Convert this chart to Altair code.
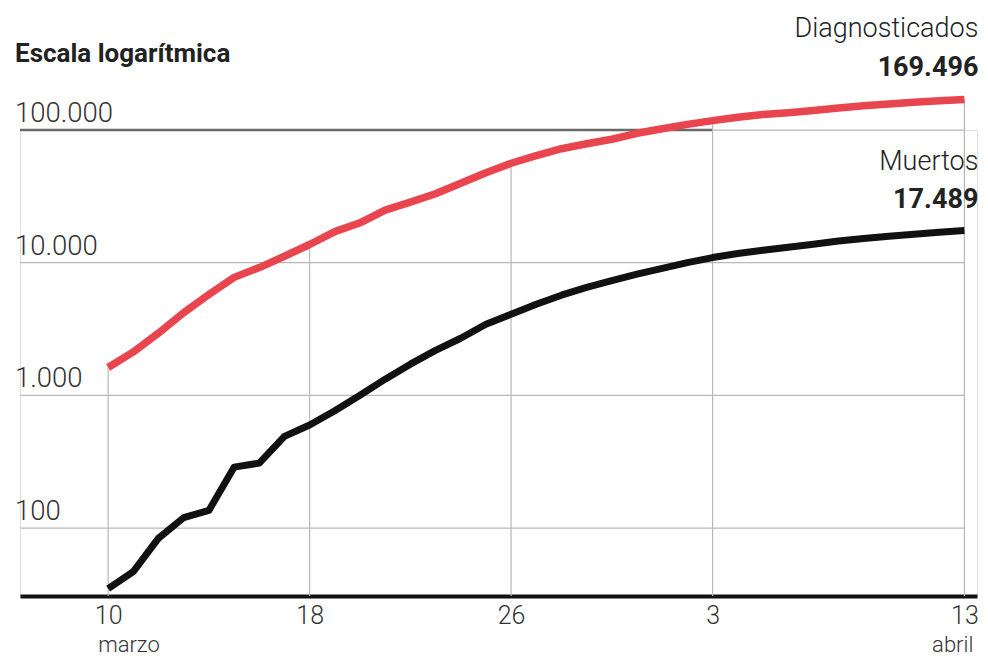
import altair as alt
import pandas as pd

fechas = pd.date_range("2020-03-10", "2020-04-13", freq="D")
diagnosticados = [1622, 2128, 2950, 4209, 5753, 7753, 9191, 11178, 13716, 17147,
                  19980, 24926, 28572, 33089, 39673, 47610, 56188, 64059, 72248, 78797,
                  85195, 94417, 102136, 110238, 117710, 124736, 130759, 135032, 140510, 146690,
                  152446, 157022, 161852, 166019, 169496]
muertos = [35, 47, 84, 120, 136, 288, 309, 491, 598, 767,
           1002, 1326, 1720, 2182, 2696, 3434, 4089, 4858, 5690, 6528,
           7340, 8189, 9053, 10003, 10935, 11744, 12418, 13055, 13798, 14555,
           15238, 15843, 16353, 16972, 17489]

y_ticks = [100, 1000, 10000, 100000]
y_labels = ["100", "1.000", "10.000", "100.000"]
x_ticks = ["2020-03-10", "2020-03-18", "2020-03-26", "2020-04-03", "2020-04-13"]
titulo = "Escala logarítmica"

X_START = pd.Timestamp("2020-03-06 12:00")
Y_MIN = 30.8
Y_MAX = 100000

FONT = "Roboto"
RED = "#E8454F"
GRID = "#b8b8b8"

df = pd.DataFrame({"fecha": fechas, "diag": diagnosticados, "muertos": muertos})

xscale = alt.Scale(domain=[alt.DateTime(year=2020, month=3, date=6, hours=12),
                           alt.DateTime(year=2020, month=4, date=13, hours=12)], nice=False)
yscale = alt.Scale(type="log", domain=[Y_MIN, Y_MAX], nice=False)

xt = [pd.Timestamp(t) for t in x_ticks]
xaxis = alt.Axis(values=[alt.DateTime(year=t.year, month=t.month, date=t.day) for t in xt],
                 format="%-d", domainColor="#111", domainWidth=4, ticks=False, grid=False,
                 labelFont=FONT, labelFontSize=25, labelFontWeight=300, labelColor="#333",
                 labelPadding=7, title=None, labelFlush=False)

X = alt.X("fecha:T", scale=xscale, axis=xaxis)

# horizontal grid
hgrid_df = pd.DataFrame({"x": [X_START] * len(y_ticks), "x2": [pd.Timestamp("2020-04-13")] * len(y_ticks),
                         "y": y_ticks, "lab": y_labels})
hgrid = alt.Chart(hgrid_df).mark_rule(color=GRID, strokeWidth=1.2).encode(
    x=alt.X("x:T", scale=xscale, axis=xaxis), x2="x2:T", y=alt.Y("y:Q", scale=yscale, axis=None))

dark_df = pd.DataFrame({"x": [X_START], "x2": [pd.Timestamp("2020-04-03")], "y": [100000]})
dark = alt.Chart(dark_df).mark_rule(color="#6a6a6a", strokeWidth=2.5).encode(
    x=alt.X("x:T", scale=xscale), x2="x2:T", y=alt.Y("y:Q", scale=yscale))

ylabels = alt.Chart(hgrid_df).mark_text(font=FONT, fontSize=27.5, fontWeight=300, color="#333",
                                         align="left", baseline="alphabetic", dx=-5, dy=-8).encode(
    x=alt.X("x:T", scale=xscale), y=alt.Y("y:Q", scale=yscale), text="lab:N")

title_df = pd.DataFrame({"x": [X_START], "y": [Y_MAX], "t": [titulo]})
title = alt.Chart(title_df).mark_text(font=FONT, fontSize=26, fontWeight="bold", color="#222",
                                       align="left", baseline="alphabetic", dx=-5, dy=-68).encode(
    x=alt.X("x:T", scale=xscale), y=alt.Y("y:Q", scale=yscale), text="t:N")

# vertical grid from red line down
vg = df[df["fecha"].isin(xt)].copy()
vg["ymin"] = Y_MIN
vgrid = alt.Chart(vg).mark_rule(color=GRID, strokeWidth=1.2).encode(
    x=X, y=alt.Y("diag:Q", scale=yscale), y2="ymin:Q")

red = alt.Chart(df).mark_line(color=RED, strokeWidth=7.5, strokeCap="butt", strokeJoin="round").encode(
    x=X, y=alt.Y("diag:Q", scale=yscale))
black = alt.Chart(df).mark_line(color="#111", strokeWidth=7, strokeCap="butt", strokeJoin="round").encode(
    x=X, y=alt.Y("muertos:Q", scale=yscale))

def fmt(v):
    return f"{v:,}".replace(",", ".")

last = df.iloc[[-1]].copy()
last["diag_txt"] = fmt(diagnosticados[-1])
last["muertos_txt"] = fmt(muertos[-1])
last["t1"] = "Diagnosticados"
last["t2"] = "Muertos"

a1 = alt.Chart(last).mark_text(font=FONT, fontSize=27, fontWeight=300, color="#222", align="right",
                               baseline="alphabetic", dx=14, dy=-63).encode(
    x=X, y=alt.Y("diag:Q", scale=yscale), text="t1:N")
a2 = alt.Chart(last).mark_text(font=FONT, fontSize=27, fontWeight="bold", color="#222", align="right",
                               baseline="alphabetic", dx=14, dy=-24).encode(
    x=X, y=alt.Y("diag:Q", scale=yscale), text="diag_txt:N")
a3 = alt.Chart(last).mark_text(font=FONT, fontSize=27, fontWeight=300, color="#222", align="right",
                               baseline="alphabetic", dx=14, dy=-60).encode(
    x=X, y=alt.Y("muertos:Q", scale=yscale), text="t2:N")
a4 = alt.Chart(last).mark_text(font=FONT, fontSize=27, fontWeight="bold", color="#222", align="right",
                               baseline="alphabetic", dx=14, dy=-22).encode(
    x=X, y=alt.Y("muertos:Q", scale=yscale), text="muertos_txt:N")

meses_df = pd.DataFrame({"fecha": [xt[0]], "y": [Y_MIN], "mes": ["marzo"]})
meses_df2 = pd.DataFrame({"fecha": [xt[-1]], "y": [Y_MIN], "mes": ["abril"]})
m1 = alt.Chart(meses_df).mark_text(font=FONT, fontSize=22, fontWeight=300, color="#333", align="left",
                                   baseline="alphabetic", dx=-10, dy=56).encode(
    x=X, y=alt.Y("y:Q", scale=yscale), text="mes:N")
m2 = alt.Chart(meses_df2).mark_text(font=FONT, fontSize=22, fontWeight=300, color="#333", align="right",
                                    baseline="alphabetic", dx=9, dy=56).encode(
    x=X, y=alt.Y("y:Q", scale=yscale), text="mes:N")

chart = alt.layer(hgrid, dark, vgrid, ylabels, title, red, black, a1, a2, a3, a4, m1, m2).properties(
    width=957, height=466,
    padding={"left": 12, "top": 122, "right": 3, "bottom": 61},
    autosize=alt.AutoSizeParams(type="none"),
).configure_view(stroke=None).configure(background="white")

chart.save("out.html", embed_options={"renderer": "svg", "actions": False})
